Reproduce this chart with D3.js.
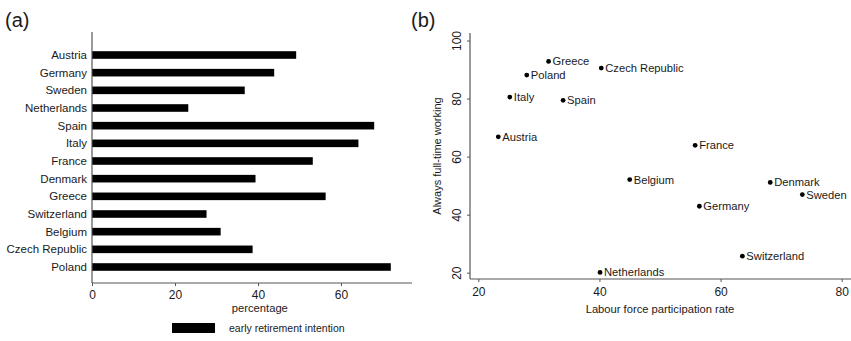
<!DOCTYPE html>
<html><head><meta charset="utf-8">
<script src="https://cdn.jsdelivr.net/npm/d3@7"></script>
<style>body{margin:0;background:#fff;} svg{display:block;font-family:"Liberation Sans",Arial,sans-serif;}</style>
</head><body>
<svg id="c" width="851" height="341"></svg>
<script>
// Panel (a)
const barCountries = ["Austria","Germany","Sweden","Netherlands","Spain","Italy","France","Denmark","Greece","Switzerland","Belgium","Czech Republic","Poland"];
const barValues = [49.2,43.9,36.8,23.2,68.0,64.2,53.2,39.4,56.3,27.6,31.0,38.7,72.0];
const barTicks = [0,20,40,60];
// Panel (b)
const scCountries = ["Greece","Czech Republic","Poland","Italy","Spain","Austria","France","Belgium","Denmark","Sweden","Germany","Switzerland","Netherlands"];
const scX = [31.6,40.3,28.0,25.2,34.0,23.3,55.8,45.0,68.2,73.5,56.5,63.6,40.1];
const scY = [92.8,90.5,88.1,80.5,79.4,66.8,63.9,52.1,51.1,46.9,42.9,25.7,20.1];
const scXTicks = [20,40,60,80];
const scYTicks = [20,40,60,80,100];

const svg = d3.select("#c");
const axisCol = "#555";
const txtCol = "#1a1a1a";
const ff = "Liberation Sans,Arial,sans-serif";

svg.append("text").attr("x",5).attr("y",27).attr("font-size",20).attr("fill",txtCol).text("(a)");
svg.append("text").attr("x",411).attr("y",27).attr("font-size",20).attr("fill",txtCol).text("(b)");

// ---- Panel a
const xa = d3.scaleLinear().domain([0,60]).range([92,341]);
const ya = d3.scalePoint().domain(barCountries).range([55,267]);
const ga = svg.append("g");
ga.selectAll("rect.bar").data(barCountries).join("rect")
  .attr("x",xa(0)).attr("y",d=>ya(d)-3.8)
  .attr("width",(d,i)=>xa(barValues[i])-xa(0)).attr("height",7.6).attr("fill","#000");
ga.append("line").attr("x1",92).attr("x2",92).attr("y1",32).attr("y2",283).attr("stroke",axisCol).attr("stroke-width",1.2);
ga.selectAll("text.cat").data(barCountries).join("text")
  .attr("x",87).attr("y",d=>ya(d)+4).attr("text-anchor","end").attr("font-size",11.5).attr("fill",txtCol).text(d=>d);
const axA = ga.append("g").attr("transform","translate(0,283)")
  .call(d3.axisBottom(xa).tickValues(barTicks).tickSize(3).tickPadding(4).tickSizeOuter(0));
axA.select(".domain").attr("d","M92,0H412").attr("stroke",axisCol).attr("stroke-width",1.2);
axA.selectAll(".tick line").attr("stroke",axisCol);
axA.selectAll("text").attr("font-size",12).attr("fill",txtCol).attr("font-family",ff);
ga.append("text").attr("x",xa(39)+6).attr("y",312).attr("text-anchor","middle").attr("font-size",11.2).attr("fill",txtCol).text("percentage");
ga.append("rect").attr("x",172).attr("y",323).attr("width",43).attr("height",10).attr("fill","#000");
ga.append("text").attr("x",229).attr("y",332).attr("font-size",10.5).attr("fill",txtCol).text("early retirement intention");

// ---- Panel b
const xb = d3.scaleLinear().domain([20,80]).range([478.3,841.7]);
const yb = d3.scaleLinear().domain([20,100]).range([272.7,40.5]);
const gb = svg.append("g");
const axBx = gb.append("g").attr("transform","translate(0,279)")
  .call(d3.axisBottom(xb).tickValues(scXTicks).tickSize(3).tickPadding(5).tickSizeOuter(0));
axBx.select(".domain").attr("d","M470,0H851").attr("stroke",axisCol).attr("stroke-width",1.2);
axBx.selectAll(".tick line").attr("stroke",axisCol);
axBx.selectAll("text").attr("font-size",12).attr("fill",txtCol).attr("font-family",ff);
const axBy = gb.append("g").attr("transform","translate(470,0)")
  .call(d3.axisLeft(yb).tickValues(scYTicks).tickSize(3).tickSizeOuter(0));
axBy.select(".domain").attr("d","M0,33V279").attr("stroke",axisCol).attr("stroke-width",1.2);
axBy.selectAll(".tick line").attr("stroke",axisCol);
axBy.selectAll(".tick text").attr("font-size",12).attr("fill",txtCol).attr("font-family",ff)
  .attr("x",null).attr("dy",null).attr("text-anchor","middle").attr("transform","translate(-9,0) rotate(-90)");
gb.append("text").attr("transform","translate(441,156) rotate(-90)").attr("text-anchor","middle").attr("font-size",11).attr("fill",txtCol).text("Always full-time working");
gb.append("text").attr("x",660).attr("y",313).attr("text-anchor","middle").attr("font-size",11.2).attr("fill",txtCol).text("Labour force participation rate");
gb.selectAll("circle").data(scCountries).join("circle")
  .attr("cx",(d,i)=>xb(scX[i])).attr("cy",(d,i)=>yb(scY[i])).attr("r",2.4).attr("fill","#000");
gb.selectAll("text.lab").data(scCountries).join("text")
  .attr("x",(d,i)=>xb(scX[i])+4).attr("y",(d,i)=>yb(scY[i])+4).attr("font-size",11.2).attr("fill",txtCol).text(d=>d);
</script>
</body></html>
